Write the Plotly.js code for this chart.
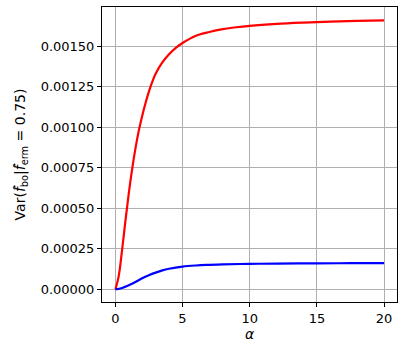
<!DOCTYPE html>
<html>
<head>
<meta charset="utf-8">
<script src="https://cdn.plot.ly/plotly-3.0.1.min.js"></script>
<style>
  html, body { margin: 0; padding: 0; background: #fff; }
  #plot { width: 411px; height: 350px; }
</style>
</head>
<body>
<div id="plot"></div>
<script>
// values
var alphaRed = [0.01, 0.25, 0.5, 0.75, 1.0, 1.25, 1.5, 1.75, 2.0, 2.25, 2.5, 2.75, 3.0, 3.5, 4.0, 4.5, 5.0, 6.0, 7.0, 8.0, 9.0, 10.0, 12.0, 14.0, 16.0, 18.0, 20.0];
var varRed = [0, 0.00008, 0.00024, 0.00042, 0.00059, 0.00074, 0.00087, 0.00098, 0.00107, 0.00115, 0.00122, 0.00128, 0.00133, 0.00140, 0.00145, 0.00149, 0.00152, 0.001565, 0.001588, 0.001605, 0.001617, 0.001626, 0.001638, 0.001646, 0.001652, 0.001656, 0.00166];

var alphaBlue = [0.01, 0.5, 1.0, 1.5, 2.0, 2.5, 3.0, 3.5, 4.0, 5.0, 6.0, 7.0, 8.0, 10.0, 12.0, 15.0, 17.5, 20.0];
var varBlue = [0, 0.000008, 0.000025, 0.000045, 0.000068, 0.000087, 0.000103, 0.000117, 0.000127, 0.000140, 0.000147, 0.000151, 0.000154, 0.000157, 0.000159, 0.000160, 0.000161, 0.000162];

var trace1 = {
  x: alphaRed,
  y: varRed,
  type: "scatter",
  mode: "lines",
  line: { color: "red", width: 2.2, shape: "spline" }
};

var trace2 = {
  x: alphaBlue,
  y: varBlue,
  type: "scatter",
  mode: "lines",
  line: { color: "blue", width: 2.2, shape: "spline" }
};

var data = [trace1, trace2];

var axisStyle = {
  showline: true,
  mirror: true,
  linecolor: "#000",
  linewidth: 1,
  ticks: "outside",
  ticklen: 4,
  tickcolor: "#000",
  showgrid: true,
  gridcolor: "#b0b0b0",
  gridwidth: 1,
  zeroline: false,
  tickfont: { family: "DejaVu Sans", size: 13, color: "#000" }
};

var layout = {
  width: 411,
  height: 350,
  margin: { l: 102, r: 14, t: 7, b: 48 },
  showlegend: false,
  paper_bgcolor: "#fff",
  plot_bgcolor: "#fff",
  xaxis: Object.assign({}, axisStyle, {
    range: [-0.99, 20.96],
    dtick: 5,
    tick0: 0,
    title: { text: "<i>α</i>", font: { family: "DejaVu Sans", size: 14, color: "#000" }, standoff: 4 }
  }),
  yaxis: Object.assign({}, axisStyle, {
    range: [-0.0000783, 0.001742],
    dtick: 0.00025,
    tick0: 0,
    tickformat: ".5f",
    title: { text: "Var(<i>f\u0302</i><sub>bo</sub>|<i>f\u0302</i><sub>erm</sub> = 0.75)", font: { family: "DejaVu Sans", size: 14, color: "#000" }, standoff: 11 }
  })
};

Plotly.newPlot("plot", data, layout, { displayModeBar: false });
</script>
</body>
</html>
